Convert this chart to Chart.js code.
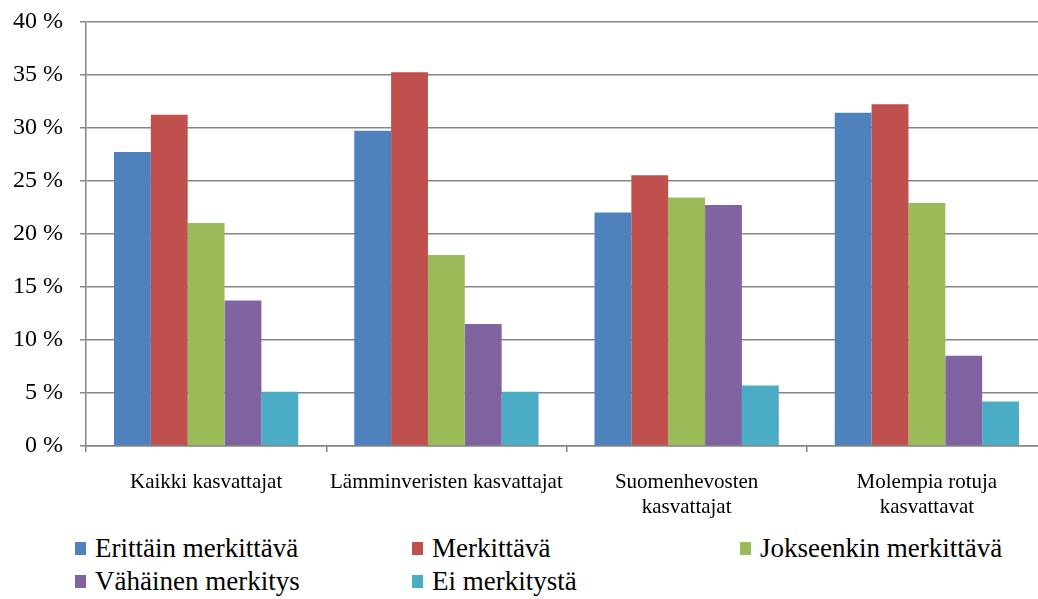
<!DOCTYPE html>
<html>
<head>
<meta charset="utf-8">
<script src="https://cdn.jsdelivr.net/npm/chart.js@4.4.0/dist/chart.umd.min.js"></script>
<style>
    html, body { margin: 0; padding: 0; background: #fff; overflow: hidden; }
    #wrap { position: relative; width: 1038px; height: 599px; overflow: hidden; }
    #box { position: absolute; left: 0; top: -10px; width: 1047px; height: 536px; }
    #legend {
        position: absolute; left: 75px; top: 532px;
        display: grid; grid-template-columns: 337px 328px auto;
        grid-auto-rows: 33px;
        font-family: "Liberation Serif", serif;
        font-size: 27px; color: #000;
    }
    #legend .item { display: flex; align-items: center; white-space: nowrap; }
    #legend .sw { width: 11px; height: 13px; margin-right: 9px; }
</style>
</head>
<body>
<div id="wrap">
    <div id="box"><canvas id="chart"></canvas></div>
    <div id="legend"></div>
</div>
<script>
// Ryhmät
const kategoriat = [
    'Kaikki kasvattajat',
    'Lämminveristen kasvattajat',
    ['Suomenhevosten', 'kasvattajat'],
    ['Molempia rotuja', 'kasvattavat']
];

// Arvot prosentteina
const erittainMerkittava = [27.7, 29.7, 22.0, 31.4];
const merkittava         = [31.2, 35.2, 25.5, 32.2];
const jokseenkin         = [21.0, 18.0, 23.4, 22.9];
const vahainen           = [13.7, 11.5, 22.7, 8.5];
const eiMerkitysta       = [5.1, 5.1, 5.7, 4.2];

const sarjat = ['Erittäin merkittävä', 'Merkittävä', 'Jokseenkin merkittävä', 'Vähäinen merkitys', 'Ei merkitystä'];
const varit  = ['#4F81BD', '#C0504D', '#9BBB59', '#8064A2', '#4BACC6'];
const arvot  = [erittainMerkittava, merkittava, jokseenkin, vahainen, eiMerkitysta];

const fontti = 'Liberation Serif';
const harmaa = '#868686';

Chart.defaults.font.family = fontti;
Chart.defaults.color = '#000';

const chart = new Chart(document.getElementById('chart'), {
    type: 'bar',
    data: {
        labels: kategoriat,
        datasets: sarjat.map((nimi, i) => ({
            label: nimi,
            data: arvot[i],
            backgroundColor: varit[i],
            borderWidth: 0,
            categoryPercentage: 0.767,
            barPercentage: 1.0
        }))
    },
    options: {
        responsive: true,
        maintainAspectRatio: false,
        animation: false,
        layout: { padding: { top: 0, left: 0, right: 0, bottom: 0 } },
        plugins: {
            legend: { display: false },
            tooltip: { enabled: false }
        },
        scales: {
            x: {
                grid: {
                    display: true,
                    offset: true,
                    drawOnChartArea: false,
                    drawTicks: true,
                    tickLength: 6,
                    color: harmaa,
                    lineWidth: 1.5
                },
                border: { color: harmaa, width: 1.5 },
                ticks: {
                    color: '#000',
                    font: { family: fontti, size: 21, lineHeight: 1.2 },
                    padding: 18,
                    maxRotation: 0,
                    autoSkip: false
                },
                afterFit: (scale) => { scale.height = 80; }
            },
            y: {
                min: 0,
                max: 40,
                grid: {
                    color: harmaa,
                    lineWidth: 1.5,
                    tickLength: 6
                },
                border: { color: harmaa, width: 1.5 },
                ticks: {
                    stepSize: 5,
                    color: '#000',
                    font: { family: fontti, size: 24 },
                    padding: 17,
                    callback: (v) => v + ' %'
                },
                afterFit: (scale) => { scale.width = 86; }
            }
        }
    }
});

// Selite
const selite = document.getElementById('legend');
chart.data.datasets.forEach((ds) => {
    const item = document.createElement('div');
    item.className = 'item';
    const sw = document.createElement('span');
    sw.className = 'sw';
    sw.style.background = ds.backgroundColor;
    item.appendChild(sw);
    item.appendChild(document.createTextNode(ds.label));
    selite.appendChild(item);
});
</script>
</body>
</html>
